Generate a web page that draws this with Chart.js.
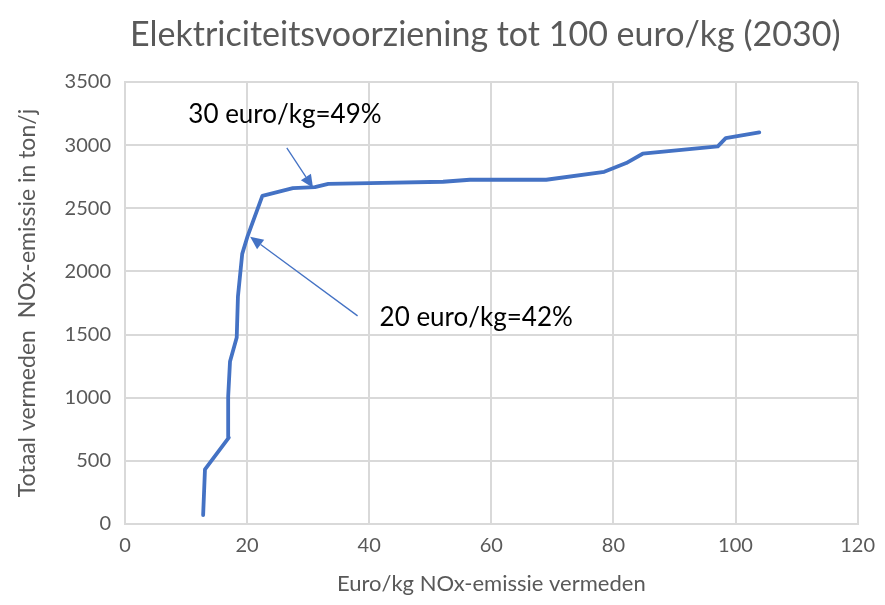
<!DOCTYPE html>
<html><head><meta charset="utf-8">
<script src="https://cdn.jsdelivr.net/npm/chart.js@4/dist/chart.umd.min.js"></script>
<style>html,body{margin:0;padding:0;background:#fff}#wrap{width:885px;height:605px}</style>
</head><body><div id="wrap"><canvas id="c" width="885" height="605"></canvas></div>
<script>
const chartTitle = 'Elektriciteitsvoorziening tot 100 euro/kg (2030)';
const costX = [12.8, 13.1, 17.0, 16.9, 17.2, 18.3, 18.5, 19.2, 20.1, 22.5, 27.5, 31.1, 33.3, 40.1, 52.1, 56.5, 69.0, 78.5, 82.1, 84.8, 97.1, 98.4, 103.9];
const avoidedY = [70, 433, 684, 1009, 1286, 1476, 1801, 2139, 2282, 2599, 2660, 2668, 2694, 2700, 2710, 2726, 2726, 2789, 2858, 2932, 2990, 3056, 3101];
const xTicks = [0, 20, 40, 60, 80, 100, 120];
const yTicks = [0, 500, 1000, 1500, 2000, 2500, 3000, 3500];
const annoLabels = ["30 euro/kg=49%", "20 euro/kg=42%"];
const annoText = [[26.2, 3241], [41.7, 1632]];
const annoFrom = [[26.5, 2979], [38.1, 1648]];
const annoTo = [[30.8, 2662], [20.5, 2274]];

const points = costX.map((x, i) => ({x, y: avoidedY[i]}));
const FONT = "Lato, 'Open Sans', sans-serif";
const GREY = '#595959';

const annoPlugin = {
  id: 'anno',
  afterDatasetsDraw(chart) {
    const {ctx, chartArea, scales: {x, y}} = chart;
    ctx.save();
    annoLabels.forEach((lab, i) => {
      const fx = x.getPixelForValue(annoFrom[i][0]), fy = y.getPixelForValue(annoFrom[i][1]);
      const tx = x.getPixelForValue(annoTo[i][0]), ty = y.getPixelForValue(annoTo[i][1]);
      ctx.strokeStyle = '#4472C4'; ctx.fillStyle = '#4472C4'; ctx.lineWidth = 1.3;
      const ang = Math.atan2(ty - fy, tx - fx);
      const hl = 13, hw = 6;
      const bx = tx - hl * Math.cos(ang), by = ty - hl * Math.sin(ang);
      ctx.beginPath(); ctx.moveTo(fx, fy); ctx.lineTo(bx, by); ctx.stroke();
      ctx.beginPath(); ctx.moveTo(tx, ty);
      ctx.lineTo(bx + hw * Math.sin(ang), by - hw * Math.cos(ang));
      ctx.lineTo(bx - hw * Math.sin(ang), by + hw * Math.cos(ang));
      ctx.closePath(); ctx.fill();
      ctx.fillStyle = '#000'; ctx.font = "26px " + FONT; ctx.textBaseline = 'middle';
      const px = x.getPixelForValue(annoText[i][0]), py = y.getPixelForValue(annoText[i][1]);
      ctx.textAlign = i === 0 ? 'center' : 'left';
      ctx.fillText(lab, px, py);
    });
    // title
    ctx.fillStyle = GREY; ctx.font = "34px " + FONT; ctx.textAlign = 'center'; ctx.textBaseline = 'middle';
    ctx.fillText(chartTitle, (chartArea.left + chartArea.right) / 2 - 6, 35);
    ctx.restore();
  }
};

new Chart(document.getElementById('c'), {
  type: 'scatter',
  data: { datasets: [{ data: points, showLine: true, borderColor: '#4472C4', borderWidth: 3.8, borderJoinStyle: 'round', borderCapStyle: 'round', pointRadius: 0, tension: 0, fill: false }] },
  options: {
    responsive: false, animation: false,
    layout: { padding: { left: 10, right: 27, top: 82, bottom: 4 } },
    plugins: {
      legend: { display: false }, tooltip: { enabled: false }, title: { display: false }
    },
    scales: {
      x: { type: 'linear', min: 0, max: 120,
        afterBuildTicks: s => { s.ticks = xTicks.map(v => ({value: v})); },
        afterFit: s => { s.height = 77; },
        ticks: { color: GREY, font: { family: FONT, size: 20 }, padding: 10, callback: v => String(v) },
        grid: { color: '#d9d9d9', lineWidth: 2, drawTicks: false },
        border: { color: '#d9d9d9', width: 2 },
        title: { display: true, text: 'Euro/kg NOx-emissie vermeden', color: GREY, font: { family: FONT, size: 22 }, padding: { top: 8 } } },
      y: { min: 0, max: 3500,
        afterBuildTicks: s => { s.ticks = yTicks.map(v => ({value: v})); },
        afterFit: s => { s.width = 115; },
        ticks: { color: GREY, font: { family: FONT, size: 20 }, padding: 14, callback: v => String(v) },
        grid: { color: '#d9d9d9', lineWidth: 2, drawTicks: false },
        border: { color: '#d9d9d9', width: 2 },
        title: { display: true, text: 'Totaal vermeden  NOx-emissie in ton/j', color: GREY, font: { family: FONT, size: 23 }, padding: { bottom: 6 } } }
    }
  },
  plugins: [annoPlugin]
});
</script></body></html>
